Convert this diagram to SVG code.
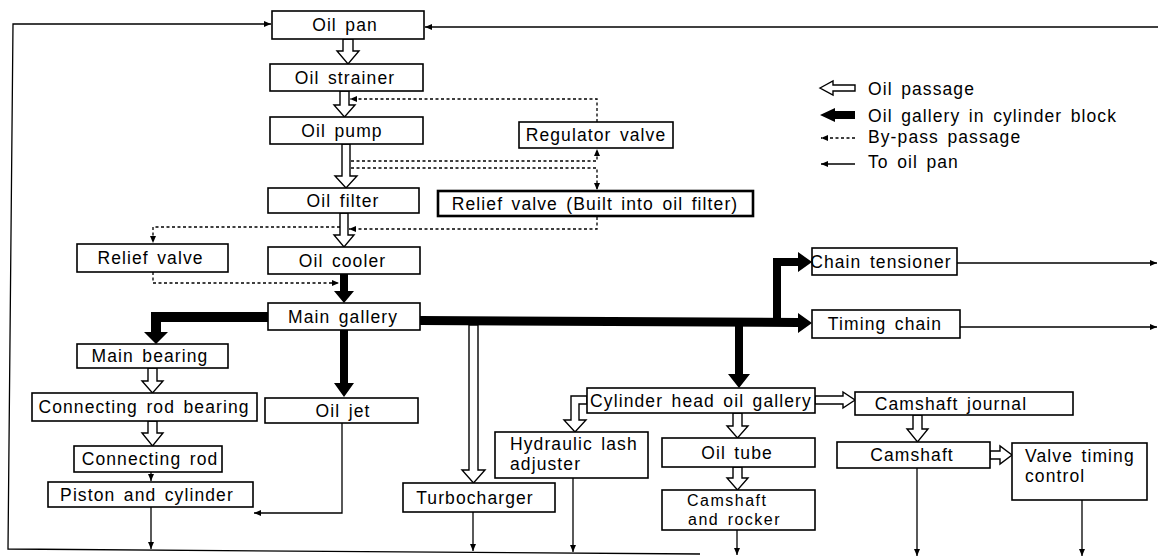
<svg xmlns="http://www.w3.org/2000/svg" width="1158" height="556" viewBox="0 0 1158 556">
<style>
.box{fill:#fff;stroke:#000;stroke-width:1.6}
.bold{stroke-width:2.6}
.t{font-family:"Liberation Sans",Arial,sans-serif;font-size:17.5px;letter-spacing:1.1px;word-spacing:2.5px;fill:#000;text-anchor:middle}
.s{text-anchor:start}
.sm{font-size:16px;letter-spacing:1.5px}
.open{fill:#fff;stroke:#000;stroke-width:1.4}
.thick{fill:#000}
.thin{fill:none;stroke:#000;stroke-width:1.3}
.dash{fill:none;stroke:#000;stroke-width:1.3;stroke-dasharray:3 2.5}
</style>
<defs>
<marker id="ah" viewBox="0 0 7 6" refX="7" refY="3" markerWidth="7" markerHeight="6" markerUnits="userSpaceOnUse" orient="auto">
<path d="M0,0 L7,3 L0,6 z" fill="#000"/>
</marker>
</defs>
<rect width="1158" height="556" fill="#fff"/>

<g id="connectors">
<!-- thick gallery arrows -->
<polygon class="thick" points="340,274 348,274 348,291 354,291 344,303 334,291 340,291"/>
<polygon class="thick" points="268,312 268,322 161,322 161,332 168,332 156,344 144,332 151,332 151,312"/>
<polygon class="thick" points="340,330 348,330 348,383 354,383 344,397 334,383 340,383"/>
<polygon class="thick" points="420,316 798,318 798,313 812,323 798,333 798,327 420,325"/>
<polygon class="thick" points="773,318 773,258 798,258 798,252 812,262 798,272 798,266 781,266 781,318"/>
<polygon class="thick" points="735,324 743,324 743,374 750,374 739,388 728,374 735,374"/>
<!-- open oil passage arrows -->
<polygon class="open" points="343,39 343,51 337,51 348,64 359,51 353,51 353,39"/>
<polygon class="open" points="340,91 340,105 334,105 344.5,117 355,105 349,105 349,91"/>
<polygon class="open" points="342,144 342,176 335,176 346,188 357,176 350,176 350,144"/>
<polygon class="open" points="340,213 340,235 334,235 344,247 354,235 348,235 348,213"/>
<polygon class="open" points="148,368 148,381 142,381 152.5,393 163,381 157,381 157,368"/>
<polygon class="open" points="148,421 148,433 142,433 152.5,446 163,433 157,433 157,421"/>
<polygon class="open" points="469,325 469,470 462,470 473.5,483 485,470 478,470 478,325"/>
<polygon class="open" points="587,396 571,396 571,420 564,420 575,432 586,420 579,420 579,404 587,404"/>
<polygon class="open" points="733,413 733,426 727,426 737.5,438 748,426 742,426 742,413"/>
<polygon class="open" points="733,467 733,478 727,478 737.5,490 748,478 742,478 742,467"/>
<polygon class="open" points="815,396 843,396 843,392 855,400 843,408 843,404 815,404"/>
<polygon class="open" points="913,415 913,429 907,429 917.5,442 928,429 922,429 922,415"/>
<polygon class="open" points="990,451 1000,451 1000,446 1012,455 1000,464 1000,459 990,459"/>
<!-- by-pass passages -->
<path class="dash" d="M597,122 V99 H350" marker-end="url(#ah)"/>
<path class="dash" d="M351,161 H597 V149" marker-end="url(#ah)"/>
<path class="dash" d="M351,168 H597 V190" marker-end="url(#ah)"/>
<path class="dash" d="M597,217 V229 H349" marker-end="url(#ah)"/>
<path class="dash" d="M340,227 H153 V243" marker-end="url(#ah)"/>
<path class="dash" d="M153,272 V283 H339" marker-end="url(#ah)"/>
<!-- to oil pan -->
<path class="thin" d="M1158,27 H425" marker-end="url(#ah)"/>
<path class="thin" d="M700,554 L8,549 L13,24 H271" marker-end="url(#ah)"/>
<path class="thin" d="M151,472 V481" marker-end="url(#ah)"/>
<path class="thin" d="M342,423 V513 H254" marker-end="url(#ah)"/>
<path class="thin" d="M151,507 V549" marker-end="url(#ah)"/>
<path class="thin" d="M473,512 V551" marker-end="url(#ah)"/>
<path class="thin" d="M573,478 V552" marker-end="url(#ah)"/>
<path class="thin" d="M737,530 V555" marker-end="url(#ah)"/>
<path class="thin" d="M917,468 V556" marker-end="url(#ah)"/>
<path class="thin" d="M1082,500 V556" marker-end="url(#ah)"/>
<path class="thin" d="M957,263 H1157" marker-end="url(#ah)"/>
<path class="thin" d="M960,327 H1157" marker-end="url(#ah)"/>
</g>

<g id="oil-pan"><rect class="box" x="272" y="11" width="152" height="28"/><text class="t" x="345" y="31">Oil pan</text></g>
<g id="oil-strainer"><rect class="box" x="270" y="64" width="153" height="27"/><text class="t" x="345" y="84">Oil strainer</text></g>
<g id="oil-pump"><rect class="box" x="270" y="117" width="153" height="27"/><text class="t" x="342" y="137">Oil pump</text></g>
<g id="oil-filter"><rect class="box" x="268" y="188" width="151" height="25"/><text class="t" x="343" y="207">Oil filter</text></g>
<g id="oil-cooler"><rect class="box" x="268" y="247" width="152" height="27"/><text class="t" x="342.5" y="267">Oil cooler</text></g>
<g id="main-gallery"><rect class="box" x="268" y="303" width="152" height="27"/><text class="t" x="343" y="323">Main gallery</text></g>
<g id="relief-valve"><rect class="box" x="77" y="244" width="151" height="28"/><text class="t" x="150.5" y="264">Relief valve</text></g>
<g id="regulator-valve"><rect class="box" x="519" y="122" width="154" height="26"/><text class="t" x="596" y="141">Regulator valve</text></g>
<g id="relief-valve-filter"><rect class="box bold" x="438" y="191" width="315" height="25"/><text class="t" x="595" y="210">Relief valve (Built into oil filter)</text></g>
<g id="main-bearing"><rect class="box" x="77" y="344" width="151" height="24"/><text class="t" x="150" y="362">Main bearing</text></g>
<g id="conrod-bearing"><rect class="box" x="32" y="393" width="225" height="28"/><text class="t" x="144" y="413">Connecting rod bearing</text></g>
<g id="conrod"><rect class="box" x="74" y="446" width="148" height="26"/><text class="t" x="150" y="465">Connecting rod</text></g>
<g id="piston"><rect class="box" x="48" y="482" width="205" height="25"/><text class="t" x="147" y="501">Piston and cylinder</text></g>
<g id="oil-jet"><rect class="box" x="265" y="398" width="153" height="25"/><text class="t" x="343" y="417">Oil jet</text></g>
<g id="turbocharger"><rect class="box" x="403" y="483" width="152" height="29"/><text class="t" x="475" y="504">Turbocharger</text></g>
<g id="hla"><rect class="box" x="495" y="432" width="153" height="46"/><text class="t s" x="510" y="450">Hydraulic lash</text><text class="t s" x="510" y="470">adjuster</text></g>
<g id="cyl-head-gallery"><rect class="box" x="587" y="388" width="228" height="25"/><text class="t" x="701" y="407">Cylinder head oil gallery</text></g>
<g id="oil-tube"><rect class="box" x="662" y="438" width="153" height="29"/><text class="t" x="737" y="459">Oil tube</text></g>
<g id="camshaft-rocker"><rect class="box" x="662" y="490" width="153" height="40"/><text class="t s sm" x="687" y="506">Camshaft</text><text class="t s sm" x="688" y="524.5">and rocker</text></g>
<g id="camshaft-journal"><rect class="box" x="855" y="392" width="218" height="23"/><text class="t" x="951" y="410">Camshaft journal</text></g>
<g id="camshaft"><rect class="box" x="837" y="442" width="153" height="26"/><text class="t" x="912" y="461">Camshaft</text></g>
<g id="vtc"><rect class="box" x="1012" y="443" width="135" height="57"/><text class="t s" x="1025" y="462">Valve timing</text><text class="t s" x="1025" y="482">control</text></g>
<g id="chain-tensioner"><rect class="box" x="812" y="248" width="145" height="27"/><text class="t" x="881" y="268">Chain tensioner</text></g>
<g id="timing-chain"><rect class="box" x="812" y="310" width="148" height="28"/><text class="t" x="885" y="330">Timing chain</text></g>

<g id="legend">
<polygon class="open" points="820,88 833,81 833,85 855,85 855,91 833,91 833,95"/>
<text class="t s" x="868" y="95">Oil passage</text>
<polygon class="thick" points="820,115 835,108 835,111 855,111 855,119 835,119 835,122"/>
<text class="t s" x="868" y="122">Oil gallery in cylinder block</text>
<path class="dash" d="M855,138 H821" marker-end="url(#ah)"/>
<text class="t s" x="868" y="143">By-pass passage</text>
<path class="thin" d="M855,164 H821" marker-end="url(#ah)"/>
<text class="t s" x="868" y="168">To oil pan</text>
</g>
</svg>
